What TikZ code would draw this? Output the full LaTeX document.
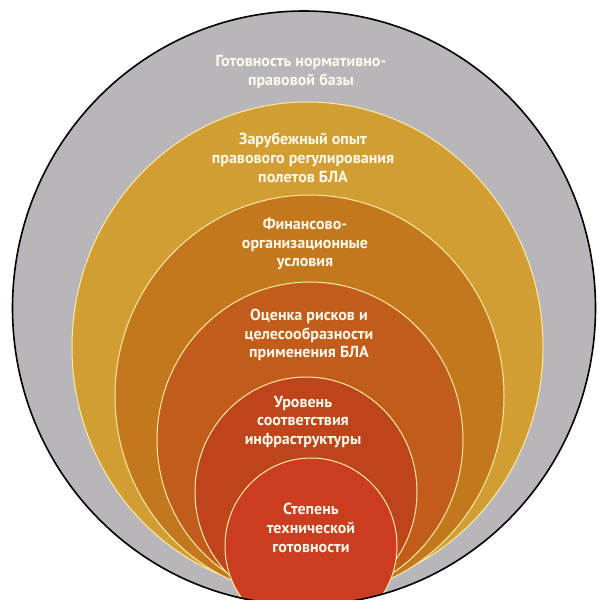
\documentclass[tikz,border=0pt]{standalone}
\usepackage{fontspec}
\setmainfont{PT Sans}
\definecolor{outergray}{RGB}{184,182,186}
\definecolor{cgold}{RGB}{210,158,52}
\definecolor{cthree}{RGB}{196,120,30}
\definecolor{cfour}{RGB}{194,92,26}
\definecolor{cfive}{RGB}{190,68,27}
\definecolor{csix}{RGB}{204,60,30}
\definecolor{ringline}{RGB}{250,234,165}
\definecolor{labtext}{RGB}{255,250,236}
\begin{document}
\begin{tikzpicture}[x=1pt,y=-1pt,
  ring/.style={draw=ringline, line width=1pt},
  lab/.style={text=labtext, font=\bfseries\fontsize{16}{18.8}\selectfont, align=center, inner sep=0pt}]
\useasboundingbox (0,0) rectangle (598,600);
\fill[white] (0,0) rectangle (598,600);
% outer disc
\fill[outergray] (304,308) ellipse [x radius=291.5, y radius=297];
\begin{scope}
  \clip (304,308) ellipse [x radius=291.5, y radius=297];
  \fill[cgold, ring]  (307.5,347) ellipse [x radius=235.5, y radius=245];
  \fill[cthree, ring] (309.5,396) ellipse [x radius=194.5, y radius=201];
  \fill[cfour, ring]  (310,440)   ellipse [x radius=153, y radius=158];
  \fill[cfive, ring]  (306,492)   ellipse [x radius=111, y radius=115];
  \fill[csix, ring]   (311,546)   ellipse [x radius=86, y radius=88];
\end{scope}
\draw[black, line width=1.6pt] (304,308) ellipse [x radius=291.5, y radius=297];
% labels
\node[lab] (t1) at (301,72)  {Готовность нормативно-\\правовой базы};
\node[lab] (t2) at (303,158) {Зарубежный опыт\\правового регулирования\\полетов БЛА};
\node[lab] (t3) at (305,244) {Финансово-\\организационные\\условия};
\node[lab] (t4) at (309,335) {Оценка рисков и\\целесообразности\\применения БЛА};
\node[lab] (t5) at (303,422) {Уровень\\соответствия\\инфраструктуры};
\node[lab] (t6) at (311,528) {Степень\\технической\\готовности};
\end{tikzpicture}
\end{document}
